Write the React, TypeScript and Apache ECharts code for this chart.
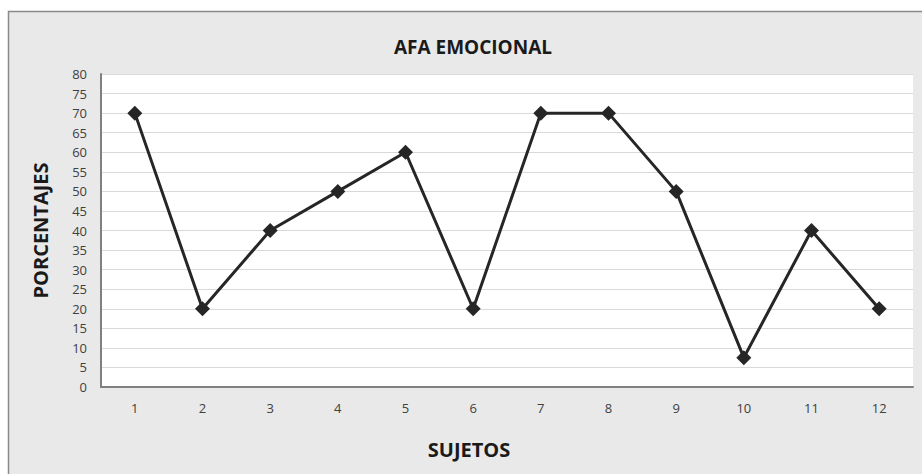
import React, { useEffect, useRef } from "react";
import * as echarts from "echarts";

const categories = ["1", "2", "3", "4", "5", "6", "7", "8", "9", "10", "11", "12"];
const values = [70, 20, 40, 50, 60, 20, 70, 70, 50, 7.5, 40, 20];
const titleText = "AFA EMOCIONAL";
const xName = "SUJETOS";
const yName = "PORCENTAJES";

const FONT = "'Open Sans', 'Liberation Sans', sans-serif";

export default function App() {
  const ref = useRef<HTMLDivElement>(null);
  useEffect(() => {
    if (!ref.current) return;
    const chart = echarts.init(ref.current, undefined, { renderer: "svg" });
    chart.setOption({
      animation: false,
      backgroundColor: "#ffffff",
      graphic: [
        {
          type: "rect",
          z: -10,
          silent: true,
          shape: { x: 8.5, y: 11.5, width: 940, height: 490 },
          style: { fill: "#e9e9e9", stroke: "#8a8a8a", lineWidth: 1.5 },
        },
      ],
      title: {
        text: titleText,
        left: 468,
        textAlign: "center",
        top: 32,
        textStyle: { fontFamily: FONT, fontWeight: "bold", fontSize: 19, color: "#1a1a1a" },
      },
      grid: {
        left: 101,
        right: 9,
        top: 74,
        bottom: 87,
        show: true,
        backgroundColor: "#ffffff",
        borderWidth: 0,
        containLabel: false,
      },
      xAxis: {
        type: "category",
        data: categories,
        boundaryGap: true,
        name: xName,
        nameLocation: "middle",
        nameGap: 52,
        nameTextStyle: {
          fontFamily: FONT,
          fontWeight: "bold",
          fontSize: 20,
          color: "#1a1a1a",
          padding: [0, 76, 0, 0],
        },
        axisLine: { show: true, lineStyle: { color: "#808080", width: 2 } },
        axisTick: { show: false },
        axisLabel: { fontFamily: FONT, fontSize: 13, color: "#404040", margin: 14 },
        splitLine: { show: false },
      },
      yAxis: {
        type: "value",
        min: 0,
        max: 80,
        interval: 5,
        name: yName,
        nameLocation: "middle",
        nameGap: 51,
        nameTextStyle: { fontFamily: FONT, fontWeight: "bold", fontSize: 20, color: "#1a1a1a" },
        axisLine: { show: true, lineStyle: { color: "#808080", width: 2 } },
        axisTick: { show: false },
        axisLabel: { fontFamily: FONT, fontSize: 13, color: "#404040", margin: 14 },
        splitLine: { show: true, lineStyle: { color: "#d9d9d9", width: 1 } },
      },
      series: [
        {
          type: "line",
          data: values,
          symbol: "diamond",
          symbolSize: 15,
          lineStyle: { color: "#262626", width: 3 },
          itemStyle: { color: "#262626" },
        },
      ],
    });
    return () => chart.dispose();
  }, []);
  return (
    <div
      ref={ref}
      style={{ position: "absolute", left: 0, top: 0, width: 922, height: 474 }}
    />
  );
}
